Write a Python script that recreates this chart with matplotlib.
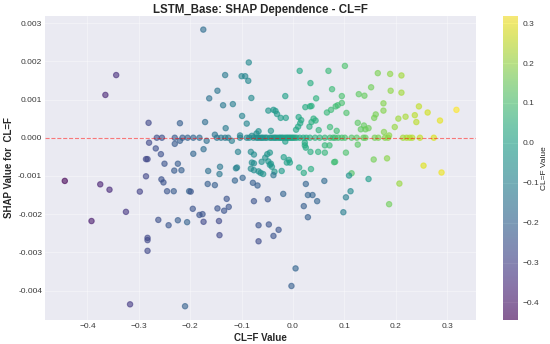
import numpy as np
import matplotlib
matplotlib.use("Agg")
import matplotlib.pyplot as plt

# points whose colour follows the CL=F value on the x axis
main_x = [
    -0.344, -0.365, -0.281, -0.220, -0.280, -0.267, -0.257, -0.283, -0.286, -0.250,
    -0.224, -0.230, -0.220, -0.231, -0.217, -0.286, -0.256, -0.252, -0.444, -0.375,
    -0.357, -0.298, -0.245, -0.232, -0.202, -0.325, -0.392, -0.262, -0.242, -0.224,
    -0.206, -0.283, -0.283, -0.283, -0.317, -0.210,
    -0.1745, -0.086, -0.132, -0.100, -0.093, -0.087, 0.013, 0.069, 0.034, 0.076,
    -0.147, -0.163, -0.081, -0.015, 0.045, -0.136, -0.117, 0.024, 0.033, 0.036,
    0.074, 0.066, -0.048, -0.038, -0.034, -0.031, -0.099, -0.024, -0.014, 0.011,
    0.016, 0.014, 0.036, 0.044, 0.040, -0.171, -0.090, -0.131, -0.043, 0.006,
    0.010, 0.032, 0.050, 0.072, -0.152, -0.103, -0.080, -0.071, -0.067,
    -0.194, -0.174, -0.107, -0.082, -0.076, -0.080, -0.076, -0.050, -0.045, -0.054,
    -0.061, -0.048, -0.043, -0.018, -0.008, -0.006, 0.023, 0.025, 0.034, 0.049,
    0.062, 0.062, 0.071, 0.080, -0.168, -0.119, -0.015, 0.023,
    -0.165, -0.142, -0.143, -0.111, -0.109, -0.082, -0.076, -0.067, -0.063, -0.058,
    -0.041, -0.045, -0.036, -0.022, -0.012, 0.012, 0.021, 0.035, 0.082, 0.114,
    0.101, 0.165, 0.189, 0.211, 0.152, 0.190, 0.211, 0.095, 0.095, 0.087,
    0.083, 0.128, 0.139, 0.104, 0.176, 0.176, 0.161, 0.158, 0.245, 0.262,
    0.318, 0.237, 0.240, 0.219, 0.205, 0.286, 0.126, 0.198, 0.138, 0.132,
    0.141, 0.147, 0.085, 0.177, 0.187, 0.126, 0.103, 0.157, 0.183,
]
main_shap = [
    0.00164, 0.00112, 0.00039, 0.00038, -0.00013, -0.00028, -0.00043, -0.00056, -0.00056, -0.00068,
    -0.00068, -0.00016, -0.00008, -0.00086, -0.00085, -0.00101, -0.00109, -0.00117, -0.00113, -0.00122,
    -0.00136, -0.00141, -0.00140, -0.00140, -0.00140, -0.00194, -0.00218, -0.00215, -0.00229, -0.00216,
    -0.00221, -0.00262, -0.00268, -0.00296, -0.00436, -0.00441,
    0.00283, 0.00197, 0.00164, 0.00161, 0.00161, 0.00149, 0.00175, 0.00175, 0.00143, 0.00127,
    0.00123, 0.00103, 0.00104, 0.00109, 0.00103, 0.00085, 0.00088, 0.00080, 0.00082, 0.00083,
    0.00073, 0.00066, 0.00071, 0.00073, 0.00070, 0.00062, 0.00057, 0.00052, 0.00052, 0.00054,
    0.00046, 0.00038, 0.00041, 0.00045, 0.00050, 0.00041, 0.00037, 0.00025, 0.00018, 0.00021,
    0.00029, 0.00029, 0.00020, 0.00028, 0.00008, 0.00006, 0.00005, 0.00011, 0.00017,
    -0.00042, -0.00030, -0.00037, -0.00037, -0.00044, -0.00065, -0.00067, -0.00043, -0.00039, -0.00052,
    -0.00063, -0.00062, -0.00068, -0.00051, -0.00058, -0.00065, -0.00020, -0.00026, -0.00037, -0.00037,
    -0.00039, -0.00020, -0.00020, -0.00064, -0.00008, -0.00008, -0.00010, -0.00013,
    -0.00087, -0.00076, -0.00095, -0.00080, -0.00078, -0.00081, -0.00085, -0.00088, -0.00092, -0.00095,
    -0.00076, -0.00071, -0.00089, -0.00087, -0.00065, -0.00078, -0.00092, -0.00082, -0.00063, -0.00093,
    0.00188, 0.00169, 0.00167, 0.00163, 0.00132, 0.00123, 0.00118, 0.00109, 0.00091, 0.00085,
    0.00082, 0.00114, 0.00110, 0.00065, 0.00090, 0.00071, 0.00061, 0.00052, 0.00082, 0.00066,
    0.00073, 0.00059, 0.00041, 0.00055, 0.00050, 0.00045, 0.00039, 0.00028, 0.00032, 0.00022,
    0.00022, 0.00025, 0.00018, 0.00015, 0.00006, -0.00018, -0.00039, -0.00057, -0.00054,
]

# points sitting exactly on SHAP = 0
zero_x = [
    -0.265, -0.255, -0.230, -0.215, -0.205, -0.194, -0.182, -0.148, -0.140, -0.132,
    -0.126, -0.103, -0.090, -0.085, -0.077, -0.071, -0.068, -0.064, -0.061, -0.058,
    -0.054, -0.051, -0.045, -0.042, -0.038, -0.035, -0.032, -0.028, -0.025, -0.022,
    -0.019, -0.015, -0.012, -0.009, -0.006, -0.003, 0.000, 0.003, 0.007, 0.013,
    0.020, 0.026, 0.033, 0.043, 0.052, 0.062, 0.072, 0.078, 0.082, 0.088,
    0.095, 0.101, 0.114, 0.124, 0.137, 0.141, 0.159, 0.166, 0.179, 0.185,
    0.214, 0.221, 0.227, 0.232, 0.247, 0.274,
]

# lower cluster whose colour does not follow x
off_x = [
    -0.166, -0.152, -0.199, -0.113, -0.098, -0.078, -0.069, -0.038, 0.025, 0.061,
    -0.129, -0.076, -0.049, -0.019, 0.029, 0.038, 0.047, 0.021, 0.029, -0.195,
    -0.182, -0.176, -0.174, -0.147, -0.134, -0.125, -0.144, -0.143, -0.067, -0.047,
    -0.028, -0.038, -0.067, 0.005, -0.003,
    0.098, 0.103, 0.112, 0.109, 0.147, 0.207, 0.187, 0.254, 0.289,
]
off_shap = [
    -0.00121, -0.00124, -0.00141, -0.00112, -0.00105, -0.00118, -0.00125, -0.00098, -0.00121, -0.00113,
    -0.00160, -0.00166, -0.00161, -0.00147, -0.00150, -0.00150, -0.00166, -0.00179, -0.00208, -0.00186,
    -0.00202, -0.00200, -0.00220, -0.00185, -0.00191, -0.00181, -0.00218, -0.00255, -0.00229, -0.00227,
    -0.00241, -0.00257, -0.00271, -0.00342, -0.00388,
    -0.00195, -0.00156, -0.00140, -0.00099, -0.00108, -0.00120, -0.00174, -0.00073, -0.00091,
]
off_color = [
    -0.22, -0.22, -0.25, -0.20, -0.20, -0.22, -0.22, -0.15, -0.20, -0.18,
    -0.25, -0.25, -0.25, -0.20, -0.20, -0.20, -0.20, -0.22, -0.22, -0.25,
    -0.25, -0.25, -0.28, -0.25, -0.25, -0.25, -0.28, -0.28, -0.25, -0.25,
    -0.25, -0.25, -0.27, -0.20, -0.22,
    -0.12, -0.12, -0.08, -0.05, -0.02, 0.20, 0.15, 0.28, 0.30,
]

x = np.concatenate([main_x, zero_x, off_x])
y = np.concatenate([main_shap, np.zeros(len(zero_x)), off_shap])
c = np.concatenate([main_x, zero_x, off_color])

plt.style.use("seaborn-v0_8-darkgrid")
plt.rcParams["font.family"] = ["Liberation Sans", "DejaVu Sans"]

fig = plt.figure(figsize=(5.5, 3.44), dpi=100)
ax = fig.add_axes([0.0818, 0.0698, 0.7836, 0.8837])
cax = fig.add_axes([0.9145, 0.0698, 0.0273, 0.8837])

sc = ax.scatter(x, y, c=c, cmap="viridis", s=15, alpha=0.6, linewidths=0.8)
ax.axhline(0, color="red", linestyle="--", linewidth=0.8, alpha=0.5)
ax.grid(True, alpha=0.35)

ax.set_xlim(-0.4825, 0.356)
ax.set_ylim(-0.00477, 0.003186)
ax.set_xticks([-0.4, -0.3, -0.2, -0.1, 0.0, 0.1, 0.2, 0.3])
ax.set_yticks([-0.004, -0.003, -0.002, -0.001, 0.0, 0.001, 0.002, 0.003])
ax.yaxis.set_major_formatter(matplotlib.ticker.FormatStrFormatter("%.3f"))
ax.tick_params(labelsize=6, pad=2, labelcolor="#3a3a3a")

ax.set_title("LSTM_Base: SHAP Dependence - CL=F", fontsize=8.3, fontweight="bold", pad=2.5)
ax.set_xlabel("CL=F Value", fontsize=7, fontweight="bold", labelpad=2)
ax.set_ylabel("SHAP Value for  CL=F", fontsize=7, fontweight="bold", labelpad=3)

cb = fig.colorbar(sc, cax=cax)
cb.set_label("CL=F Value", fontsize=6, labelpad=1)
cb.ax.tick_params(labelsize=6, labelcolor="#3a3a3a")
cb.outline.set_visible(False)

fig.savefig("out.png", dpi=100)
